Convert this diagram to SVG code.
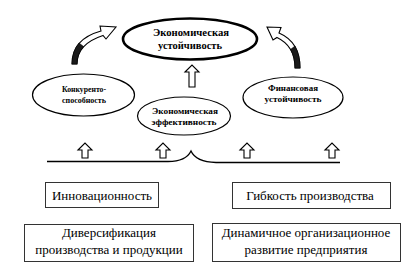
<svg xmlns="http://www.w3.org/2000/svg" xmlns:xlink="http://www.w3.org/1999/xlink" width="415" height="273" viewBox="0 0 415 273">
<style>
.bg{fill:#ffffff}
.ell{fill:#ffffff;stroke:#000;stroke-width:1.2}
.ellb{fill:#ffffff;stroke:#000;stroke-width:2.6}
.box{fill:#ffffff;stroke:#333;stroke-width:1}
.et{font-family:'Liberation Serif',serif;font-weight:bold;fill:#000;text-anchor:middle}
.bt{font-family:'Liberation Serif',serif;font-size:13px;fill:#000;text-anchor:middle}
.line{fill:none;stroke:#000;stroke-width:1.3}
.hollow{fill:#ffffff;stroke:#000;stroke-width:1.1;stroke-linejoin:miter}
.dark{fill:#1a1a1a;stroke:#000;stroke-width:0.6}
</style>
<defs>
<path id="up" d="M-7,7 L0,0 L7,7 L3,7 L3,15 L-3,15 L-3,7 Z"/>
</defs>
<rect class="bg" x="0" y="0" width="415" height="273"/>

<g id="connectors">
  <path class="hollow" d="M72,64 Q72,39 101,31 L100,26 L116,27 L106,39 L103,35.5 Q77,44 77,64 Z"/>
  <path class="dark" d="M72,64 Q72,51 79,43 L83.5,46.5 Q77,54 77,64 Z"/>
  <path class="hollow" d="M300,68 Q300,42 279,33 L281,27.5 L267,27 L273,40 L277,37.5 Q295,46 295,68 Z"/>
  <path class="dark" d="M300,68 Q300,55 295,46 L290.5,49.5 Q295,57 295,68 Z"/>
  <path class="hollow" d="M185,72 L192,65 L199,72 L195,72 L195,87 L189,87 L189,72 Z"/>
  <path class="line" d="M47,161.5 L168,161.5 Q186,161.5 191,151 Q196,162 216,162.5 L340,162.5"/>
  <use xlink:href="#up" class="hollow" transform="translate(85,143)"/>
  <use xlink:href="#up" class="hollow" transform="translate(163,143)"/>
  <use xlink:href="#up" class="hollow" transform="translate(247,143)"/>
  <use xlink:href="#up" class="hollow" transform="translate(332,143)"/>
</g>

<g id="node-stability">
  <ellipse class="ellb" cx="190" cy="39" rx="67" ry="20.5"/>
  <text class="et" font-size="10" x="191" y="36" textLength="76" lengthAdjust="spacingAndGlyphs">Экономическая</text>
  <text class="et" font-size="10" x="190" y="48.5" textLength="64" lengthAdjust="spacingAndGlyphs">устойчивость</text>
</g>

<g id="node-competitiveness">
  <ellipse class="ell" cx="83.5" cy="95" rx="51" ry="21"/>
  <text class="et" font-size="9" x="84" y="92" textLength="44" lengthAdjust="spacingAndGlyphs">Конкуренто-</text>
  <text class="et" font-size="9" x="84" y="103" textLength="44" lengthAdjust="spacingAndGlyphs">способность</text>
</g>

<g id="node-financial">
  <ellipse class="ell" cx="293" cy="97.5" rx="50" ry="20.5"/>
  <text class="et" font-size="9" x="293" y="91" textLength="50" lengthAdjust="spacingAndGlyphs">Финансовая</text>
  <text class="et" font-size="9" x="293" y="102" textLength="57" lengthAdjust="spacingAndGlyphs">устойчивость</text>
</g>

<g id="node-efficiency">
  <ellipse class="ell" cx="184" cy="116" rx="46.5" ry="19"/>
  <text class="et" font-size="9" x="185" y="113.5" textLength="66" lengthAdjust="spacingAndGlyphs">Экономическая</text>
  <text class="et" font-size="9" x="184" y="124.5" textLength="65" lengthAdjust="spacingAndGlyphs">эффективность</text>
</g>

<g id="node-innovation">
  <rect class="box" x="45.5" y="182.5" width="113" height="25"/>
  <text class="bt" x="102" y="199.5">Инновационность</text>
</g>

<g id="node-flexibility">
  <rect class="box" x="232.5" y="182.5" width="158" height="26"/>
  <text class="bt" x="310" y="199.5">Гибкость производства</text>
</g>

<g id="node-diversification">
  <rect class="box" x="24.5" y="224.5" width="169" height="37"/>
  <text class="bt" x="109" y="237">Диверсификация</text>
  <text class="bt" x="109" y="253.5">производства и продукции</text>
</g>

<g id="node-development">
  <rect class="box" x="212.5" y="223.5" width="188" height="38"/>
  <text class="bt" x="306" y="236.5">Динамичное организационное</text>
  <text class="bt" x="306" y="253.5">развитие предприятия</text>
</g>
</svg>
